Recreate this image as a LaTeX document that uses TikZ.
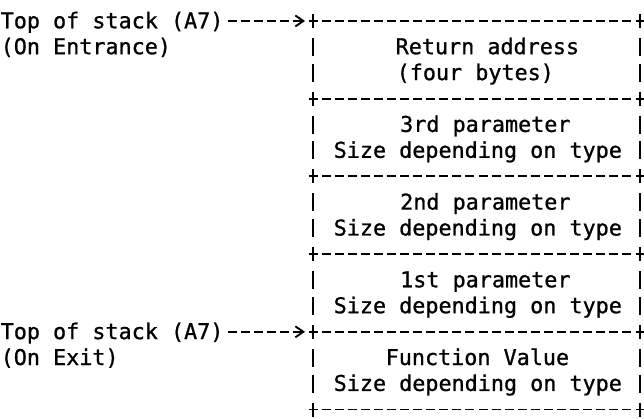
\documentclass[tikz,border=0pt]{standalone}
\usepackage{fontspec}
\newfontfamily\stackmono[FakeBold=0.9]{DejaVu Sans Mono}
\usetikzlibrary{positioning,arrows.meta}
\tikzset{font=\stackmono\fontsize{21.76pt}{26pt}\selectfont}
\tikzset{
	txt/.style={anchor=base west, inner sep=0pt},
	hline/.style={line width=1.9pt, dash pattern=on 9pt off 4.08pt},
	vline/.style={line width=1.9pt, dash pattern=on 14pt off 9.95pt on 18pt off 7.8pt on 18pt off 9.95pt},
	toparrow/.style={line width=1.9pt, dash pattern=on 9pt off 4.1pt, shorten <=4pt, shorten >=8pt, -{Straight Barb[length=8pt,width=11pt]}}
}

\begin{document}
\begin{tikzpicture}[x=1pt,y=-1pt]
	\useasboundingbox (0,0) rectangle (644,419);

	% labels on the left
	\node[txt] (topin)  at (0.5, 28.3)  {Top of stack (A7)};
	\node[txt] (onin)   at (0.5, 54.2)  {(On Entrance)};
	\node[txt] (topout) at (0.5, 339.1) {Top of stack (A7)};
	\node[txt] (onout)  at (0.5, 365.0) {(On Exit)};

	% stack cells
	\node[txt] (ret)    at (395.5, 54.2)  {Return address};
	\node[txt] (bytes)  at (396.5, 80.1)  {(four bytes)};
	\node[txt] (par3)   at (400, 131.9) {3rd parameter};
	\node[txt] (size3)  at (333.5, 157.8) {Size depending on type};
	\node[txt] (par2)   at (400, 209.6) {2nd parameter};
	\node[txt] (size2)  at (333.5, 235.5) {Size depending on type};
	\node[txt] (par1)   at (400, 287.3) {1st parameter};
	\node[txt] (size1)  at (333.5, 313.2) {Size depending on type};
	\node[txt] (fval)   at (385.5, 365.0) {Function Value};
	\node[txt] (sizef)  at (333.5, 390.9) {Size depending on type};

	% box
	\coordinate (entry) at (313, 21);
	\coordinate (exit)  at (313, 331.8);
	\foreach \r in {0,3,...,15}
		\draw[hline] (308.5, {21+25.9*\r}) -- (644.5, {21+25.9*\r});
	\draw[vline] (313, 14) -- (313, 416.5);
	\draw[vline] (640, 14) -- (640, 416.5);

	\draw[toparrow] (topin.east |- entry) -- (entry);
	\draw[toparrow] (topout.east |- exit) -- (exit);
\end{tikzpicture}
\end{document}
